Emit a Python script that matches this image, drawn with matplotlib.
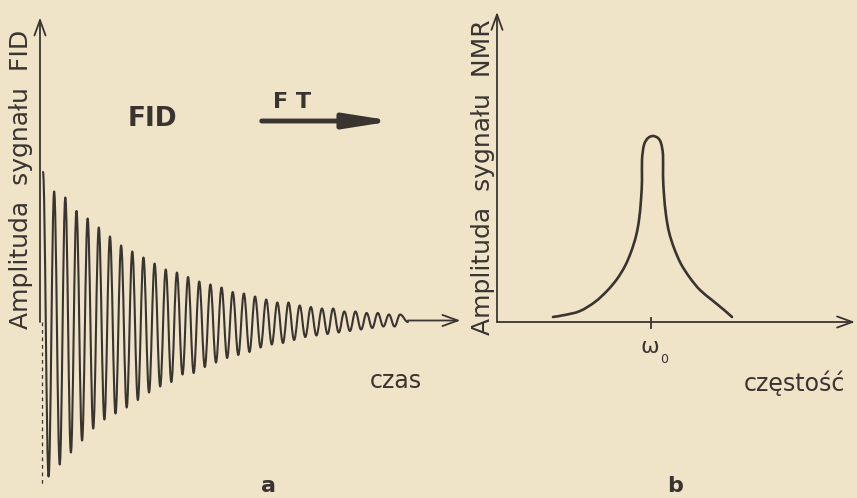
import matplotlib
matplotlib.use('Agg')
import matplotlib.pyplot as plt
from matplotlib.path import Path
from matplotlib.patches import PathPatch

# --- dane ---
# FID: amplitudy kolejnych maksimów i minimów (jednostka: pierwsze maksimum = 1)
fid_peaks = [1.00, 0.87, 0.83, 0.74, 0.69, 0.63, 0.57, 0.51, 0.47, 0.43, 0.39,
             0.35, 0.33, 0.30, 0.27, 0.25, 0.23, 0.20, 0.19, 0.17, 0.15, 0.13,
             0.13, 0.11, 0.10, 0.09, 0.09, 0.07, 0.07, 0.06, 0.06, 0.05, 0.05]
fid_troughs = [-1.03, -0.95, -0.87, -0.79, -0.71, -0.65, -0.61, -0.57, -0.52,
               -0.47, -0.43, -0.40, -0.35, -0.34, -0.30, -0.27, -0.24, -0.22,
               -0.20, -0.17, -0.15, -0.14, -0.12, -0.10, -0.09, -0.08, -0.07,
               -0.06, -0.05, -0.04, -0.03, -0.03]
fid_end_time = 32.7   # czas (w okresach), gdzie sygnał gaśnie

# widmo NMR: przesunięcie od omega_0 i amplituda (max = 1)
nmr_freq = [-9.8, -8.6, -7.1, -5.6, -4.4, -3.4, -2.6, -2.0, -1.5, -1.2, -1.0,
            -0.9, -0.9, -0.7, -0.3, 0.2, 0.7, 1.0, 1.2, 1.2, 1.3, 1.5, 1.8,
            2.3, 3.0, 3.9, 4.9, 6.1, 7.3, 8.1]
nmr_amp = [0.027, 0.038, 0.059, 0.108, 0.167, 0.231, 0.301, 0.376, 0.462,
           0.548, 0.656, 0.763, 0.871, 0.952, 0.989, 1.000, 0.989, 0.962,
           0.898, 0.790, 0.683, 0.575, 0.484, 0.398, 0.312, 0.237, 0.172,
           0.118, 0.065, 0.027]

INK = '#3a3431'
PAPER = '#efe3c8'
FONT = ['DejaVu Sans']

plt.rcParams['font.family'] = FONT


def smooth_path(xs, ys):
    """Krzywa Catmulla-Roma przez podane punkty (jako ścieżka Béziera)."""
    pts = list(zip(xs, ys))
    ext = [pts[0]] + pts + [pts[-1]]
    verts = [pts[0]]
    codes = [Path.MOVETO]
    for i in range(1, len(ext) - 2):
        p0, p1, p2, p3 = ext[i - 1], ext[i], ext[i + 1], ext[i + 2]
        c1 = (p1[0] + (p2[0] - p0[0]) / 6, p1[1] + (p2[1] - p0[1]) / 6)
        c2 = (p2[0] - (p3[0] - p1[0]) / 6, p2[1] - (p3[1] - p1[1]) / 6)
        verts += [c1, c2, p2]
        codes += [Path.CURVE4] * 3
    return Path(verts, codes)


fig = plt.figure(figsize=(8.57, 4.98), dpi=100)
fig.patch.set_facecolor(PAPER)

# lewy panel (a) i prawy panel (b)
ax1 = fig.add_axes([0, 0, 470 / 857, 1])
ax2 = fig.add_axes([470 / 857, 0, 387 / 857, 1])
ax1.set_xlim(-43 / 11.16, 427 / 11.16)
ax1.set_ylim(-176 / 150, 322 / 150)
ax2.set_xlim(-18.1, 20.6)
ax2.set_ylim(-176 / 186, 322 / 186)
for ax in (ax1, ax2):
    ax.set_facecolor('none')
    ax.axis('off')

axis_arrow = dict(arrowstyle='->,head_length=0.55,head_width=0.2', lw=1.3,
                  color=INK, mutation_scale=20, shrinkA=0, shrinkB=0)

# ---------- panel a: FID ----------
# ekstrema na przemian: maksimum w t = k, minimum w t = k + 0.5
ext_t, ext_y = [], []
for k, p in enumerate(fid_peaks):
    ext_t.append(k)
    ext_y.append(p)
    if k < len(fid_troughs):
        ext_t.append(k + 0.5)
        ext_y.append(fid_troughs[k])
ext_t.append(fid_end_time)
ext_y.append(0.0)

verts = [(ext_t[0], ext_y[0])]
codes = [Path.MOVETO]
for i in range(1, len(ext_t)):
    t0, y0 = ext_t[i - 1], ext_y[i - 1]
    t1, y1 = ext_t[i], ext_y[i]
    d = (t1 - t0) * 0.38
    verts += [(t0 + d, y0), (t1 - d, y1), (t1, y1)]
    codes += [Path.CURVE4] * 3
ax1.add_patch(PathPatch(Path(verts, codes), fill=False, ec=INK, lw=1.5,
                        capstyle='round', joinstyle='round'))

# osie
ax1.annotate('', xy=(-0.27, 2.03), xytext=(-0.27, 0), arrowprops=axis_arrow)
ax1.plot([-0.1, -0.1], [0, -1.09], color=INK, lw=0.9, ls=(0, (3, 3)))
ax1.annotate('', xy=(37.4, 0.01), xytext=(fid_end_time, 0.01), arrowprops=axis_arrow)

ax1.text(-1.97, 0.95, 'Amplituda  sygnału  FID', rotation=90, ha='center',
         va='center', fontsize=18, color=INK)
ax1.text(9.8, 1.35, 'FID', ha='center', va='center', fontsize=19,
         fontweight='bold', color=INK)
ax1.text(22.3, 1.47, 'F T', ha='center', va='center', fontsize=16,
         fontweight='bold', color=INK)
ax1.annotate('', xy=(31.4, 1.34), xytext=(19.6, 1.34),
             arrowprops=dict(arrowstyle='-|>,head_length=1.4,head_width=0.22',
                             lw=3.5, color=INK, mutation_scale=20,
                             shrinkA=0, shrinkB=0))
ax1.text(31.6, -0.39, 'czas', ha='center', va='center', fontsize=17, color=INK)
ax1.text(20.2, -1.09, 'a', ha='center', va='center', fontsize=16,
         fontweight='bold', color=INK)

# ---------- panel b: widmo NMR ----------
ax2.add_patch(PathPatch(smooth_path(nmr_freq, nmr_amp), fill=False, ec=INK,
                        lw=1.9, capstyle='round', joinstyle='round'))
ax2.annotate('', xy=(-15.4, 1.667), xytext=(-15.4, 0), arrowprops=axis_arrow)
ax2.annotate('', xy=(20.4, 0), xytext=(-15.4, 0), arrowprops=axis_arrow)
ax2.plot([0, 0], [0.022, -0.032], color=INK, lw=1.3)

ax2.text(-16.8, 0.78, 'Amplituda  sygnału  NMR', rotation=90, ha='center',
         va='center', fontsize=18, color=INK)
ax2.text(-0.1, -0.135, 'ω', ha='center', va='center', fontsize=16, color=INK)
ax2.text(1.3, -0.2, '0', ha='center', va='center', fontsize=9, color=INK)
ax2.text(14.3, -0.33, 'częstość', ha='center', va='center', fontsize=17,
         color=INK)
ax2.text(2.4, -0.88, 'b', ha='center', va='center', fontsize=16,
         fontweight='bold', color=INK)

fig.savefig('out.png', dpi=100, facecolor=PAPER)
